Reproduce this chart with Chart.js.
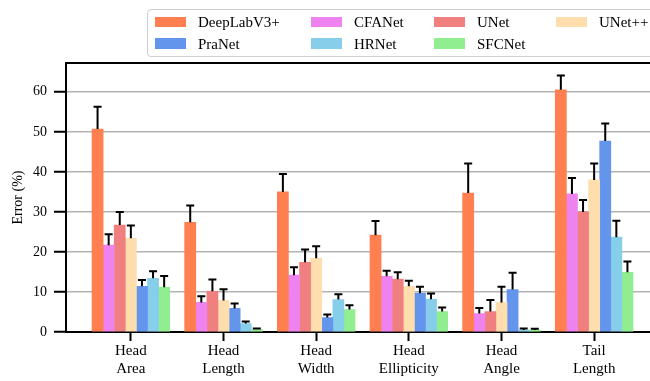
<!DOCTYPE html>
<html>
<head>
<meta charset="utf-8">
<script src="https://cdn.jsdelivr.net/npm/chart.js@4/dist/chart.umd.min.js"></script>
<style>
  html, body { margin: 0; padding: 0; background: #fff; }
  #wrap { position: relative; width: 650px; height: 381px; overflow: hidden; background: #fff; }
  #chart { position: absolute; left: 0; top: 0; }
  #legend {
    position: absolute; left: 147px; top: 9px; width: 530px; height: 48px;
    border: 1.5px solid #cfcfcf; border-radius: 4px; background: rgba(255,255,255,0.8);
    font-family: "Liberation Serif", "Times New Roman", serif; font-size: 15px; color: #000;
    box-sizing: border-box;
  }
  .item { position: absolute; height: 18px; white-space: nowrap; }
  .patch { position: absolute; left: 0; top: 3.5px; width: 31px; height: 10.5px; }
  .label { position: absolute; left: 43px; top: 0; line-height: 18px; }
</style>
</head>
<body>
<div id="wrap">
  <canvas id="chart" width="670" height="381" style="width:670px;height:381px"></canvas>
  <div id="legend"></div>
</div>
<script>
// Measurement categories (two-line tick labels)
const categories = [
  ['Head', 'Area'],
  ['Head', 'Length'],
  ['Head', 'Width'],
  ['Head', 'Ellipticity'],
  ['Head', 'Angle'],
  ['Tail', 'Length']
];

const methods = ['DeepLabV3+', 'CFANet', 'UNet', 'UNet++', 'PraNet', 'HRNet', 'SFCNet'];
const colors  = ['#FF7F50', '#EE82EE', '#F08080', '#FFDEAD', '#6495ED', '#87CEEB', '#90EE90'];

// Mean error (%) per category, and its standard deviation
const deeplabMean = [50.7, 27.4, 35.0, 24.2, 34.7, 60.5];
const deeplabErr  = [5.6, 4.2, 4.5, 3.5, 7.4, 3.6];
const cfanetMean  = [21.7, 7.4, 14.2, 13.9, 4.6, 34.5];
const cfanetErr   = [2.7, 1.5, 2.0, 1.4, 1.4, 4.0];
const unetMean    = [26.7, 10.2, 17.4, 13.2, 5.1, 30.0];
const unetErr     = [3.3, 2.9, 3.2, 1.7, 2.9, 3.0];
const unetppMean  = [23.4, 7.9, 18.4, 11.4, 7.4, 38.0];
const unetppErr   = [3.2, 2.8, 3.0, 1.4, 3.9, 4.1];
const pranetMean  = [11.4, 5.9, 3.6, 9.7, 10.6, 47.7];
const pranetErr   = [1.6, 1.2, 0.8, 1.6, 4.2, 4.4];
const hrnetMean   = [13.4, 2.1, 8.1, 8.2, 0.5, 23.7];
const hrnetErr    = [1.8, 0.5, 1.3, 1.4, 0.4, 4.1];
const sfcnetMean  = [11.2, 0.6, 5.6, 5.1, 0.5, 14.9];
const sfcnetErr   = [2.8, 0.3, 1.1, 1.0, 0.3, 2.7];

const yTicks = [0, 10, 20, 30, 40, 50, 60];

const means = [deeplabMean, cfanetMean, unetMean, unetppMean, pranetMean, hrnetMean, sfcnetMean];
const errs  = [deeplabErr, cfanetErr, unetErr, unetppErr, pranetErr, hrnetErr, sfcnetErr];

const FONT = '"Liberation Serif", "Times New Roman", serif';

const datasets = methods.map((name, k) => ({
  label: name,
  data: means[k].map((v, i) => ({ x: i, y: v })),
  errors: errs[k],
  backgroundColor: colors[k],
  borderWidth: 0,
  barThickness: 11.1
}));

// Upper error bars with caps, drawn over the bars
const errorBars = {
  id: 'errorBars',
  afterDatasetsDraw(chart) {
    const { ctx } = chart;
    const y = chart.scales.y;
    ctx.save();
    ctx.strokeStyle = '#000';
    ctx.lineWidth = 2;
    chart.data.datasets.forEach((ds, di) => {
      const meta = chart.getDatasetMeta(di);
      meta.data.forEach((bar, i) => {
        const top = y.getPixelForValue(ds.data[i].y + ds.errors[i]);
        ctx.beginPath();
        ctx.moveTo(bar.x, bar.y);
        ctx.lineTo(bar.x, top);
        ctx.moveTo(bar.x - 4, top);
        ctx.lineTo(bar.x + 4, top);
        ctx.stroke();
      });
    });
    ctx.restore();
  }
};

// Top and right frame lines
const frame = {
  id: 'frame',
  afterDraw(chart) {
    const { ctx, chartArea: a } = chart;
    ctx.save();
    ctx.strokeStyle = '#000';
    ctx.lineWidth = 2;
    ctx.beginPath();
    ctx.moveTo(a.left - 1, a.top);
    ctx.lineTo(a.right + 1, a.top);
    ctx.moveTo(a.right, a.top);
    ctx.lineTo(a.right, a.bottom);
    ctx.stroke();
    ctx.restore();
  }
};

const chart = new Chart(document.getElementById('chart'), {
  type: 'bar',
  data: { datasets },
  plugins: [errorBars, frame],
  options: {
    responsive: false,
    animation: false,
    layout: { padding: { left: 0, top: 63, right: 11, bottom: 0 } },
    plugins: { legend: { display: false }, tooltip: { enabled: false } },
    scales: {
      x: {
        type: 'linear',
        min: -0.7,
        max: 5.7,
        offset: false,
        afterFit: s => { s.height = 49; },
        afterBuildTicks: s => { s.ticks = categories.map((_, i) => ({ value: i })); },
        grid: {
          offset: false,
          drawOnChartArea: false,
          tickColor: '#000',
          tickWidth: 2,
          tickLength: 9
        },
        border: { color: '#000', width: 2 },
        ticks: {
          includeBounds: false,
          autoSkip: false,
          maxRotation: 0,
          padding: 1,
          color: '#000',
          font: { family: FONT, size: 15, lineHeight: 1.2 },
          callback: v => categories[v]
        }
      },
      y: {
        min: 0,
        max: 67.2,
        afterFit: s => { s.width = 66; },
        afterBuildTicks: s => { s.ticks = yTicks.map(v => ({ value: v })); },
        grid: {
          color: '#b3b3b3',
          lineWidth: 1.5,
          tickColor: '#000',
          tickWidth: 2,
          tickLength: 12
        },
        border: { color: '#000', width: 2 },
        ticks: {
          includeBounds: false,
          padding: 7,
          color: '#000',
          font: { family: FONT, size: 14 }
        },
        title: {
          display: true,
          text: 'Error (%)',
          color: '#000',
          font: { family: FONT, size: 14 },
          padding: { top: 10, bottom: 0 }
        }
      }
    }
  }
});

// Legend laid out in four columns, filled row by row from the datasets
const legendEl = document.getElementById('legend');
const colLeft = [7, 163, 286, 408];
const rowTop = [3, 24.5];
chart.data.datasets.forEach((ds, k) => {
  const item = document.createElement('div');
  item.className = 'item';
  item.style.left = colLeft[k % 4] + 'px';
  item.style.top = rowTop[Math.floor(k / 4)] + 'px';
  const patch = document.createElement('div');
  patch.className = 'patch';
  patch.style.background = ds.backgroundColor;
  const label = document.createElement('span');
  label.className = 'label';
  label.textContent = ds.label;
  item.appendChild(patch);
  item.appendChild(label);
  legendEl.appendChild(item);
});
</script>
</body>
</html>
